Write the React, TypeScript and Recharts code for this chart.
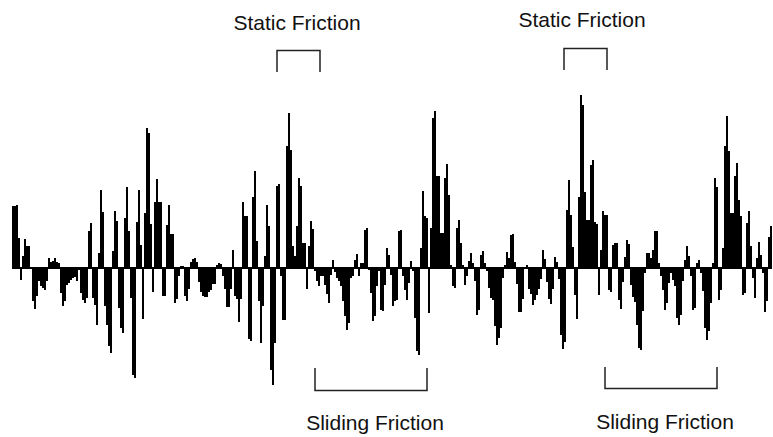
import React from "react";
import { BarChart, Bar, XAxis, YAxis, ReferenceLine } from "recharts";

// Force readings, one value every ~2px of the trace, split by stretch of the record
const segment1: number[] = [
  62, 62, 63, 30, -12, 12, 29, 22, 22, 0, -33, -41, -28, -13, -18, -20, -22, -13, 10, 6,
  7, 10, 6, 5, -25, -38, -33, -17, -15, -12, -10, -9, -13, -2, -25, -32, -35, -30, 37, 45,
  -30, -37, -57, 15, 78, 56, -38, -57, -78, -85, 17, 57, 47, -40, -60, -65, 50, 81, 37, -30,
  -107, -110,
];
const segment2: number[] = [
  46, 78, 23, -51, 55, 140, 135, 44, -24, 66, 89, 66, 66, -28, -28, 43, 63, 34, 34, -35,
  -31, -8, 2, 2, -28, -33, -21, 6, 9, 10, 6, -14, -24, -28, -29, -29, -24, -22, -16, -16,
  3, 5, 4, -8, -21, -39, -39, -21, 18, -28, -31, -54, -31, 66, 52, 52, -71, -73, 71, 97,
  27,
];
const segment3: number[] = [
  -33, -75, -38, 12, 63, 42, -102, -117, -75, 82, 84, -8, -52, -52, 122, 155, 118, 22, 12, 42,
  90, 82, 25, 25, -21, 22, 47, 39, -3, -13, -18, -8, -8, -17, -26, -35, -7, 8, -4, -10,
  -13, -18, -33, -48, -62, -55, -10, -8, 8, 14, -8, 5, 5, 38, 40, -2, -25, -53, -48, -18,
  -3,
];
const segment4: number[] = [
  -42, -43, -17, 20, 13, -7, -38, -33, -32, 37, 38, -8, -22, -32, -15, 7, -3, -50, -83, -87,
  20, 77, 52, 50, -45, 40, 150, 157, 92, 92, 35, 35, 90, 104, 73, 3, -18, -20, 40, 48,
  25, 3, -17, -8, 7, 15, 5, -13, -47, -42, 13, 17, 5, -3, -20, -30, -32, -58, -77, -70,
  -60, -10, 3, 16, 10,
];
const segment5: number[] = [
  33, 34, 6, -16, -44, -44, -31, 0, 3, -21, -26, -37, -32, -27, -21, -11, 18, 9, -14, -31,
  -36, -21, 11, 6, -11, -67, -81, -74, 58, 88, 53, 21, -27, -51, 71, 173, 163, 76, 48, 48,
  103, 108, 46, 44, -27, 18, 57, 53, 53, -22, -24, 23, 25, 25, -32, -41, -14, 11, 28, 24,
  -17, -29, -34,
];
const segment6: number[] = [
  -57, -80, -82, -43, -5, 15, 15, 10, 18, 37, 37, 5, -8, -22, -42, -35, -15, -5, -12, -18,
  -50, -57, -47, -13, 8, 22, 12, -8, -42, -40, 5, 8, -5, -23, -60, -72, -63, -35, 5, 90,
  81, -32, -22, 20, 122, 152, 117, 55, 55, 92, 105, 68, 52, -27, -25, 45, 57, 22, -10, -30,
  10, 26, 13, -5, -44, -33, 31, 42,
];

const staticLabels: string[] = ["Static Friction", "Static Friction"];
const slidingLabels: string[] = ["Sliding Friction", "Sliding Friction"];

const values = [...segment1, ...segment2, ...segment3, ...segment4, ...segment5, ...segment6];
const data = values.map((v, i) => ({ t: i, f: v }));

const FONT = "'Liberation Sans', Arial, Helvetica, sans-serif";

export default function App() {
  return (
    <div style={{ position: "absolute", left: 0, top: 0, width: 773, height: 437, background: "#fff" }}>
      <BarChart
        width={773}
        height={437}
        data={data}
        margin={{ top: 68, right: 1, bottom: 19, left: 12 }}
        barCategoryGap={0}
        barGap={0}
      >
        <XAxis dataKey="t" hide />
        <YAxis hide domain={[-150, 200]} />
        <Bar dataKey="f" fill="#000" isAnimationActive={false} />
        <ReferenceLine y={0} stroke="#000" strokeWidth={2} />
      </BarChart>
      <svg
        width={773}
        height={437}
        style={{ position: "absolute", left: 0, top: 0, pointerEvents: "none" }}
      >
        <g fill="none" stroke="#222" strokeWidth={1.5}>
          <polyline points="277,72 277,50.5 320,50.5 320,72" />
          <polyline points="564,70 564,48.5 607,48.5 607,70" />
          <polyline points="315,368 315,390.5 427,390.5 427,368" />
          <polyline points="605,367 605,388.5 717,388.5 717,367" />
        </g>
        <g fill="#111" fontFamily={FONT} fontSize={21} textAnchor="middle">
          <text x={297} y={30}>{staticLabels[0]}</text>
          <text x={582} y={27}>{staticLabels[1]}</text>
          <text x={375} y={430}>{slidingLabels[0]}</text>
          <text x={665} y={429}>{slidingLabels[1]}</text>
        </g>
      </svg>
    </div>
  );
}
